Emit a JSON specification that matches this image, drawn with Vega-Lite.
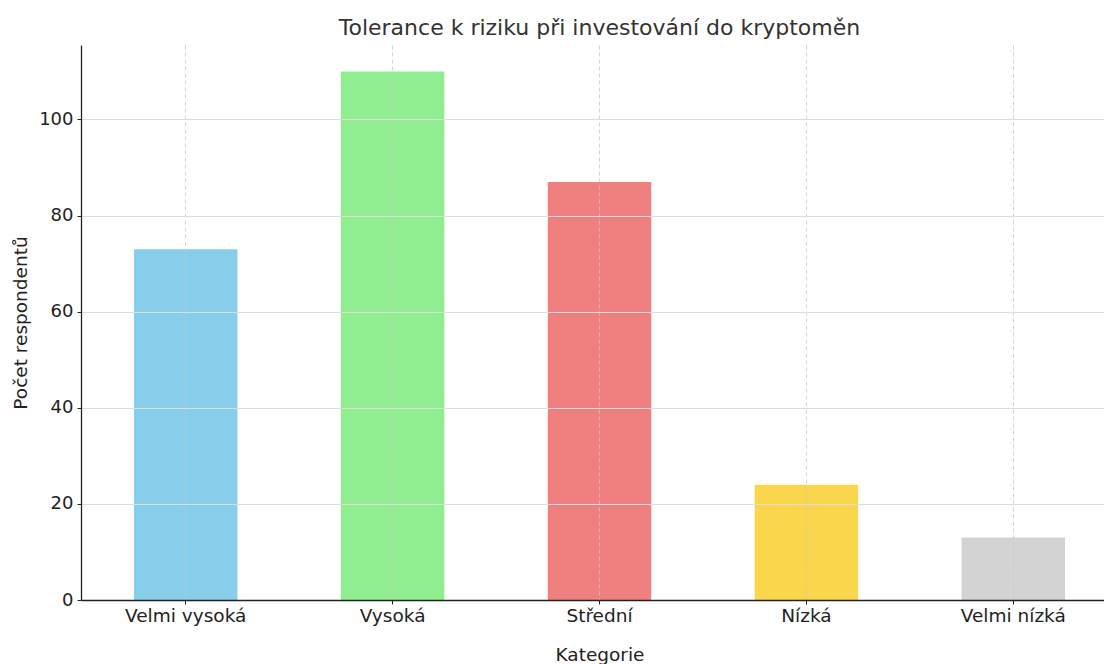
{
  "$schema": "https://vega.github.io/schema/vega-lite/v6.json",
  "width": 1037,
  "height": 555,
  "padding": {"left": 81, "top": 45, "right": 0, "bottom": 64},
  "autosize": {"type": "none"},
  "background": "white",
  "config": {
    "view": {"stroke": null},
    "font": "DejaVu Sans"
  },
  "title": {
    "text": "Tolerance k riziku při investování do kryptoměn",
    "fontSize": 22,
    "fontWeight": "normal",
    "color": "#333333",
    "anchor": "middle",
    "offset": 5,
    "font": "DejaVu Sans"
  },
  "data": {
    "values": [
      {"kategorie": "Velmi vysoká", "pocet": 73},
      {"kategorie": "Vysoká", "pocet": 110},
      {"kategorie": "Střední", "pocet": 87},
      {"kategorie": "Nízká", "pocet": 24},
      {"kategorie": "Velmi nízká", "pocet": 13}
    ]
  },
  "mark": {"type": "bar"},
  "encoding": {
    "x": {
      "field": "kategorie",
      "type": "nominal",
      "sort": null,
      "scale": {"paddingInner": 0.5, "paddingOuter": 0.256},
      "axis": {
        "title": "Kategorie",
        "titleFontSize": 18.5,
        "titleFontWeight": "normal",
        "titleColor": "#222222",
        "titlePadding": 21,
        "labelAngle": 0,
        "labelFontSize": 18.5,
        "labelColor": "#222222",
        "labelPadding": 2,
        "domainColor": "#222222",
        "domainWidth": 1.3,
        "tickColor": "#222222",
        "tickSize": 4,
        "grid": true,
        "gridColor": "#c8c8c8",
        "gridDash": [4, 3],
        "gridWidth": 0.8,
        "zindex": 1
      }
    },
    "y": {
      "field": "pocet",
      "type": "quantitative",
      "scale": {"domain": [0, 115.5], "nice": false},
      "axis": {
        "title": "Počet respondentů",
        "titleFontSize": 18.5,
        "titleFontWeight": "normal",
        "titleColor": "#222222",
        "titlePadding": 8,
        "values": [0, 20, 40, 60, 80, 100],
        "labelFontSize": 18,
        "labelColor": "#222222",
        "labelPadding": 4,
        "domainColor": "#222222",
        "domainWidth": 1.3,
        "tickColor": "#222222",
        "tickSize": 4,
        "grid": true,
        "gridColor": "#dddddd",
        "gridWidth": 1,
        "zindex": 1
      }
    },
    "color": {
      "field": "kategorie",
      "type": "nominal",
      "sort": null,
      "scale": {
        "domain": ["Velmi vysoká", "Vysoká", "Střední", "Nízká", "Velmi nízká"],
        "range": ["#87CEEB", "#90EE90", "#F08080", "#F9D64C", "#D3D3D3"]
      },
      "legend": null
    }
  }
}
